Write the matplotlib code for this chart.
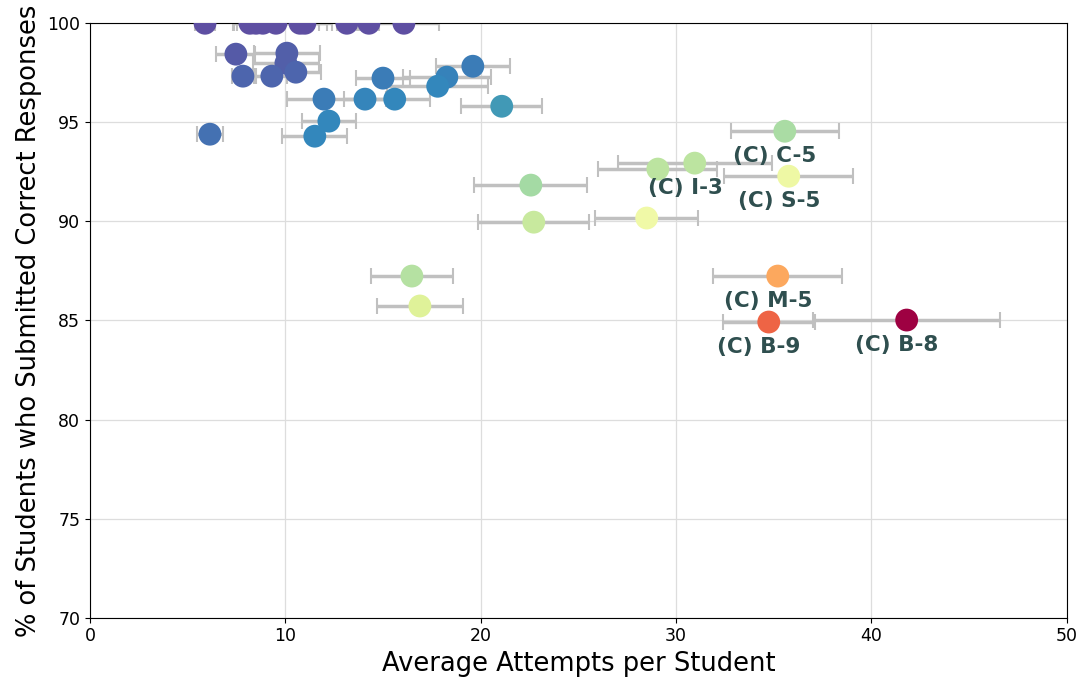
import numpy as np
import matplotlib
matplotlib.use("Agg")
import matplotlib.pyplot as plt

# average attempts per student, its error, % correct, colour score
attempts = [5.89, 8.19, 8.50, 8.85, 9.52, 10.75, 11.0, 13.15, 14.28, 16.07,
            7.47, 10.08, 10.03, 10.54, 7.83, 9.31,
            19.6, 18.27, 17.8, 15.0, 11.98, 14.08, 15.6, 21.08, 12.23, 6.14, 11.51,
            35.57, 30.96, 29.07, 35.77, 22.57, 22.72, 28.5, 16.48, 16.89,
            35.21, 34.75, 41.81]
attempts_err = [0.52, 0.82, 0.98, 0.5, 2.2, 1.38, 1.38, 0.5, 0.5, 1.79,
                1.0, 1.7, 1.7, 1.27, 0.56, 0.8,
                1.9, 2.27, 2.6, 1.4, 1.9, 1.08, 1.8, 2.07, 1.38, 0.67, 1.66,
                2.77, 3.95, 3.05, 3.3, 2.9, 2.84, 2.64, 2.1, 2.2,
                3.3, 2.35, 4.8]
pct_correct = [100, 100, 100, 100, 100, 100, 100, 100, 100, 100,
               98.44, 98.49, 97.98, 97.53, 97.33, 97.33,
               97.83, 97.28, 96.82, 97.23, 96.17, 96.17, 96.17, 95.81, 95.06, 94.40, 94.30,
               94.55, 92.94, 92.64, 92.28, 91.83, 89.96, 90.17, 87.24, 85.73,
               87.24, 84.92, 85.02]
score = [0.0, 0.0, 0.0, 0.0, 0.0, 0.0, 0.0, 0.0, 0.0, 0.0,
         0.02, 0.03, 0.03, 0.04, 0.04, 0.04,
         0.08, 0.09, 0.1, 0.08, 0.08, 0.095, 0.1, 0.13, 0.1, 0.06, 0.1,
         0.30, 0.33, 0.33, 0.43, 0.29, 0.35, 0.44, 0.32, 0.39,
         0.71, 0.82, 1.0]
labels = {27: "(C) C-5", 28: "(C) I-3", 30: "(C) S-5",
          36: "(C) M-5", 37: "(C) B-9", 38: "(C) B-8"}

fig, ax = plt.subplots(figsize=(10.84, 6.84), dpi=100)
fig.subplots_adjust(left=0.083, right=0.984, top=0.966, bottom=0.097)

ax.grid(True, color="#dddddd", linewidth=0.9, zorder=0)
ax.set_axisbelow(True)

ax.errorbar(attempts, pct_correct, xerr=attempts_err, fmt="none",
            ecolor="#c0c0c0", elinewidth=2.5, capsize=6, capthick=1.5, zorder=2)
ax.scatter(attempts, pct_correct, c=score, cmap="Spectral_r", vmin=0, vmax=1,
           s=270, edgecolors="none", zorder=3)

for i, name in labels.items():
    ax.annotate(name, (attempts[i], pct_correct[i]), xytext=(-7, -18),
                textcoords="offset points", ha="center", va="center",
                fontsize=15.5, fontweight="bold", color="#2f4f4f", zorder=4)

ax.set_xlim(0, 50)
ax.set_ylim(70, 100)
ax.set_xticks(np.arange(0, 51, 10))
ax.set_yticks(np.arange(70, 101, 5))
ax.tick_params(labelsize=12.5)
ax.set_xlabel("Average Attempts per Student", fontsize=18.5)
ax.set_ylabel("% of Students who Submitted Correct Responses", fontsize=18.5)

fig.savefig("out.png", dpi=100)
